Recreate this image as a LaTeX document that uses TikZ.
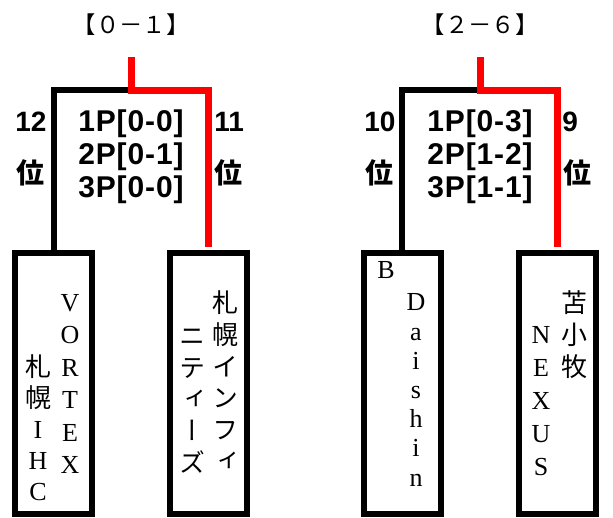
\documentclass[tikz,border=0pt]{standalone}
\usepackage{fontspec}
\usepackage{graphicx}
\setmainfont{Liberation Serif}
\newfontfamily\jpfont{Noto Sans CJK JP}[RawFeature=+vert]
\newfontfamily\jpgoth{Noto Sans CJK JP}
\newfontfamily\scorefont{Liberation Sans}[LetterSpace=3]
\newfontfamily\rankfont{Liberation Sans}
\newcommand{\jp}[1]{{\jpfont #1}}

\begin{document}
\begin{tikzpicture}[x=0.75pt, y=-0.75pt,
  team/.style={draw, line width=4.5pt, minimum width=57.75pt, minimum height=196pt, inner sep=0},
  lose/.style={line width=4.5pt},
  win/.style={line width=5.25pt, red, shorten >=2.25pt},
  col/.style={inner sep=0, align=center, font=\fontsize{19.5pt}{#1}\selectfont},
  col/.default=24pt,
  title/.style={inner sep=0, font=\jpgoth\fontsize{17.5pt}{20pt}\selectfont},
  score/.style={inner sep=0, align=center, font=\scorefont\bfseries\fontsize{22.5pt}{24.75pt}\selectfont},
  rank/.style={inner sep=0, anchor=west, font=\rankfont\bfseries\fontsize{21pt}{24pt}\selectfont}]
\useasboundingbox (0,0) rectangle (613,517);

% titles
\node[title] (t1) at (131,24.5) {【０－１】};
\node[title] (t2) at (480,24.5) {【２－６】};

% teams
\node[team] (vortex) at (53.5,383.25) {};
\node[team] (infinities) at (208.25,383.25) {};
\node[team] (daishin) at (402.25,383.25) {};
\node[team] (nexus) at (557.5,383.25) {};

% junctions
\coordinate (j1) at (131,90);
\coordinate (j1top) at (131,57);
\coordinate (j2) at (480,90);
\coordinate (j2top) at (480,57);

\draw[lose] (vortex.north) |- (j1);
\draw[win] (j1top) -- (j1) -| (infinities.north);
\draw[lose] (daishin.north) |- (j2);
\draw[win] (j2top) -- (j2) -| (nexus.north);

% scores
\node[score] (s1) at (131,157) {1P[0-0]\\2P[0-1]\\3P[0-0]};
\node[score] (s2) at (480,157) {1P[0-3]\\2P[1-2]\\3P[1-1]};

% ranks
\node[rank] (r12) at (15,122) {12};
\node[rank] (r12u) at (16,173) {\jpgoth 位};
\node[rank] (r11) at (214,122) {11};
\node[rank] (r11u) at (214,173) {\jpgoth 位};
\node[rank] (r10) at (364,122) {10};
\node[rank] (r10u) at (365,173) {\jpgoth 位};
\node[rank] (r9) at (562,122) {9};
\node[rank] (r9u) at (563,173) {\jpgoth 位};

% team names
\node[col=24.3pt] (vortexR) at (70,384) {V\\O\\R\\T\\E\\X};
\node[col=23.25pt] (vortexL) at (38,428) {\jp{札}\\\jp{幌}\\I\\H\\C};
\node[col=23.7pt] (infR) at (225,381) {\jp{札}\\\jp{幌}\\\jp{イ}\\\jp{ン}\\\jp{フ}\\\jp{ィ}};
\node[col=23.8pt] (infL) at (192,401) {\jp{ニ}\\\jp{テ}\\\jp{ィ}\\\jp{ー}\\\jp{ズ}};
\node[col] (daiB) at (386,270) {B};
\node[col=21.9pt] (daiR) at (416,390) {D\\a\\i\\s\\h\\i\\n};
\node[col=24pt] (nexR) at (574,335) {\jp{苫}\\\jp{小}\\\jp{牧}};
\node[col=24.75pt] (nexL) at (541,401) {N\\E\\X\\U\\S};
\end{tikzpicture}
\end{document}
